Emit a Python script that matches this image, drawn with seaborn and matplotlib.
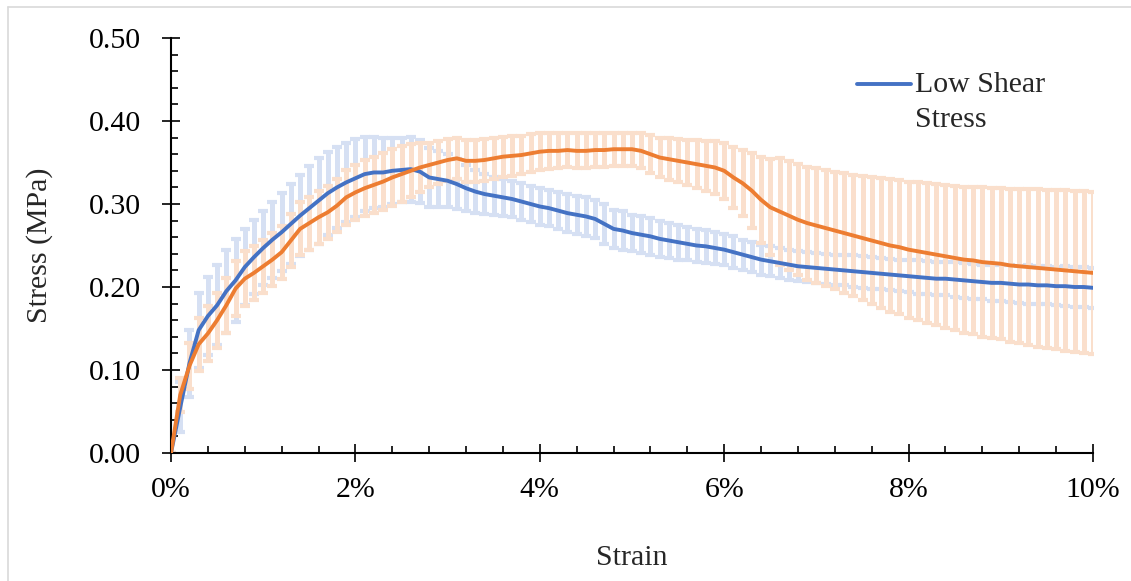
import numpy as np
import pandas as pd
import matplotlib
matplotlib.use("Agg")
import matplotlib.pyplot as plt
from matplotlib.lines import Line2D
from matplotlib.ticker import MultipleLocator
import seaborn as sns

# Strain (%) sample points
strain = [
    0.0, 0.1, 0.2, 0.3, 0.4, 0.5, 0.6, 0.7, 0.8, 0.9,
    1.0, 1.1, 1.2, 1.3, 1.4, 1.5, 1.6, 1.7, 1.8, 1.9,
    2.0, 2.1, 2.2, 2.3, 2.4, 2.5, 2.6, 2.7, 2.8, 2.9,
    3.0, 3.1, 3.2, 3.3, 3.4, 3.5, 3.6, 3.7, 3.8, 3.9,
    4.0, 4.1, 4.2, 4.3, 4.4, 4.5, 4.6, 4.7, 4.8, 4.9,
    5.0, 5.1, 5.2, 5.3, 5.4, 5.5, 5.6, 5.7, 5.8, 5.9,
    6.0, 6.1, 6.2, 6.3, 6.4, 6.5, 6.6, 6.7, 6.8, 6.9,
    7.0, 7.1, 7.2, 7.3, 7.4, 7.5, 7.6, 7.7, 7.8, 7.9,
    8.0, 8.1, 8.2, 8.3, 8.4, 8.5, 8.6, 8.7, 8.8, 8.9,
    9.0, 9.1, 9.2, 9.3, 9.4, 9.5, 9.6, 9.7, 9.8, 9.9,
    10.0,
]

# Mean stress (MPa), low shear stress group
low_mean = [
    0.000, 0.055, 0.108, 0.148, 0.165, 0.178, 0.195, 0.208, 0.224, 0.236,
    0.247, 0.257, 0.266, 0.276, 0.286, 0.295, 0.304, 0.313, 0.320, 0.326,
    0.331, 0.336, 0.338, 0.338, 0.340, 0.341, 0.342, 0.339, 0.332, 0.330,
    0.328, 0.324, 0.319, 0.315, 0.312, 0.310, 0.308, 0.306, 0.303, 0.300,
    0.297, 0.295, 0.292, 0.289, 0.287, 0.285, 0.282, 0.276, 0.270, 0.268,
    0.265, 0.263, 0.261, 0.258, 0.256, 0.254, 0.252, 0.250, 0.249, 0.247,
    0.245, 0.242, 0.239, 0.236, 0.233, 0.231, 0.229, 0.227, 0.225, 0.224,
    0.223, 0.222, 0.221, 0.220, 0.219, 0.218, 0.217, 0.216, 0.215, 0.214,
    0.213, 0.212, 0.211, 0.210, 0.210, 0.209, 0.208, 0.207, 0.206, 0.205,
    0.205, 0.204, 0.203, 0.203, 0.202, 0.202, 0.201, 0.201, 0.200, 0.200,
    0.199,
]

# Standard deviation (MPa), low shear stress group
low_sd = [
    0.000, 0.030, 0.040, 0.045, 0.047, 0.048, 0.050, 0.050, 0.046, 0.045,
    0.045, 0.046, 0.047, 0.048, 0.049, 0.051, 0.052, 0.050, 0.049, 0.048,
    0.047, 0.045, 0.043, 0.042, 0.040, 0.039, 0.039, 0.038, 0.036, 0.034,
    0.032, 0.030, 0.028, 0.026, 0.024, 0.023, 0.022, 0.022, 0.022, 0.022,
    0.022, 0.022, 0.022, 0.023, 0.023, 0.023, 0.023, 0.024, 0.023, 0.023,
    0.022, 0.022, 0.022, 0.022, 0.021, 0.021, 0.020, 0.020, 0.020, 0.019,
    0.019, 0.019, 0.018, 0.018, 0.018, 0.018, 0.018, 0.018, 0.018, 0.018,
    0.018, 0.018, 0.018, 0.018, 0.019, 0.019, 0.019, 0.019, 0.019, 0.019,
    0.019, 0.020, 0.020, 0.020, 0.020, 0.021, 0.021, 0.021, 0.021, 0.022,
    0.022, 0.022, 0.022, 0.023, 0.023, 0.023, 0.023, 0.024, 0.024, 0.024,
    0.024,
]

# Mean stress (MPa), second group
high_mean = [
    0.000, 0.070, 0.105, 0.131, 0.144, 0.160, 0.178, 0.198, 0.210, 0.217,
    0.225, 0.233, 0.242, 0.256, 0.270, 0.277, 0.284, 0.290, 0.298, 0.308,
    0.314, 0.319, 0.323, 0.327, 0.332, 0.336, 0.340, 0.344, 0.347, 0.350,
    0.353, 0.355, 0.352, 0.352, 0.353, 0.355, 0.357, 0.358, 0.359, 0.361,
    0.363, 0.364, 0.364, 0.365, 0.364, 0.364, 0.365, 0.365, 0.366, 0.366,
    0.366, 0.364, 0.360, 0.356, 0.354, 0.352, 0.350, 0.348, 0.346, 0.344,
    0.340, 0.332, 0.325, 0.316, 0.305, 0.296, 0.291, 0.286, 0.281, 0.277,
    0.274, 0.271, 0.268, 0.265, 0.262, 0.259, 0.256, 0.253, 0.250, 0.248,
    0.245, 0.243, 0.241, 0.239, 0.237, 0.235, 0.233, 0.232, 0.230, 0.229,
    0.228, 0.226, 0.225, 0.224, 0.223, 0.222, 0.221, 0.220, 0.219, 0.218,
    0.217,
]

# Standard deviation (MPa), second group
high_sd = [
    0.000, 0.020, 0.028, 0.032, 0.033, 0.033, 0.033, 0.033, 0.033, 0.033,
    0.032, 0.032, 0.032, 0.032, 0.032, 0.032, 0.032, 0.032, 0.032, 0.033,
    0.033, 0.034, 0.034, 0.034, 0.034, 0.034, 0.032, 0.030, 0.027, 0.026,
    0.025, 0.025, 0.025, 0.025, 0.025, 0.025, 0.024, 0.024, 0.023, 0.023,
    0.022, 0.022, 0.021, 0.021, 0.021, 0.021, 0.020, 0.020, 0.020, 0.020,
    0.020, 0.021, 0.023, 0.024, 0.025, 0.026, 0.027, 0.029, 0.030, 0.032,
    0.034, 0.037, 0.040, 0.045, 0.052, 0.058, 0.064, 0.066, 0.067, 0.068,
    0.069, 0.070, 0.071, 0.072, 0.073, 0.075, 0.077, 0.078, 0.080, 0.081,
    0.082, 0.083, 0.084, 0.085, 0.086, 0.087, 0.088, 0.089, 0.090, 0.090,
    0.091, 0.092, 0.093, 0.094, 0.095, 0.095, 0.096, 0.097, 0.097, 0.098,
    0.098,
]

x_ticks = [0, 2, 4, 6, 8, 10]
x_tick_labels = ["0%", "2%", "4%", "6%", "8%", "10%"]
y_ticks = [0.0, 0.1, 0.2, 0.3, 0.4, 0.5]
y_tick_labels = ["0.00", "0.10", "0.20", "0.30", "0.40", "0.50"]

BLUE = "#4472C4"
ORANGE = "#ED7D31"
BLUE_ERR = "#D6E0F3"
ORANGE_ERR = "#FADFCC"

sns.set_style("white")
plt.rcParams["font.family"] = ["Liberation Serif", "DejaVu Serif"]
FS = 21.5

df = pd.DataFrame({
    "strain": strain,
    "low_mean": low_mean,
    "low_sd": low_sd,
    "high_mean": high_mean,
    "high_sd": high_sd,
})

fig = plt.figure(figsize=(11.31, 5.81), dpi=100)
ax = fig.add_axes([171 / 1131, 1 - 453 / 581, (1093 - 171) / 1131, (453 - 38) / 581])

# Error bars (standard deviation)
ax.errorbar(df["strain"], df["low_mean"], yerr=df["low_sd"], fmt="none",
            ecolor=BLUE_ERR, elinewidth=3.6, capsize=3.6, capthick=3.0, zorder=1)
ax.errorbar(df["strain"], df["high_mean"], yerr=df["high_sd"], fmt="none",
            ecolor=ORANGE_ERR, elinewidth=3.6, capsize=3.6, capthick=3.0, zorder=1.1)

# Mean curves
sns.lineplot(data=df, x="strain", y="low_mean", ax=ax, color=BLUE,
             linewidth=2.8, label="Low Shear\nStress", zorder=3)
sns.lineplot(data=df, x="strain", y="high_mean", ax=ax, color=ORANGE,
             linewidth=2.8, label="_nolegend_", zorder=3.1)

ax.set_xlim(0, 10)
ax.set_ylim(0, 0.5)
ax.set_xticks(x_ticks)
ax.set_xticklabels(x_tick_labels)
ax.set_yticks(y_ticks)
ax.set_yticklabels(y_tick_labels)
ax.xaxis.set_minor_locator(MultipleLocator(0.4))
ax.yaxis.set_minor_locator(MultipleLocator(0.02))

for side in ("top", "right"):
    ax.spines[side].set_visible(False)
for side in ("left", "bottom"):
    ax.spines[side].set_linewidth(1.5)
    ax.spines[side].set_color("black")

ax.tick_params(which="major", direction="inout", length=13, width=1.2,
               colors="black", labelsize=FS)
ax.tick_params(which="minor", direction="in", length=5, width=1.2, colors="black")
ax.tick_params(axis="y", which="major", pad=15)
ax.tick_params(axis="x", which="major", pad=11)
ax.tick_params(which="both", left=True, bottom=True)

ax.set_xlabel("Strain", fontsize=FS, labelpad=30)
ax.set_ylabel("Stress (MPa)", fontsize=FS, labelpad=26)

leg = ax.legend(loc="upper left", bbox_to_anchor=(0.731, 0.946), frameon=False,
                fontsize=FS, handlelength=1.8, handletextpad=0.15,
                borderaxespad=0)
for t in leg.get_texts():
    t.set_linespacing(1.45)
# keep the legend line level with the first text line
for h in leg.legend_handles:
    h.set_ydata(np.asarray(h.get_ydata()) + 13)

ax.set_facecolor("white")
fig.patch.set_facecolor("white")

# Chart-area border (top and left edges)
fig.add_artist(Line2D([8 / 1131, 1.0], [1 - 7 / 581, 1 - 7 / 581],
                      transform=fig.transFigure, color="#D9D9D9", linewidth=1.2))
fig.add_artist(Line2D([8 / 1131, 8 / 1131], [0.0, 1 - 7 / 581],
                      transform=fig.transFigure, color="#D9D9D9", linewidth=1.2))

fig.savefig("out.png", dpi=100, facecolor="white")
